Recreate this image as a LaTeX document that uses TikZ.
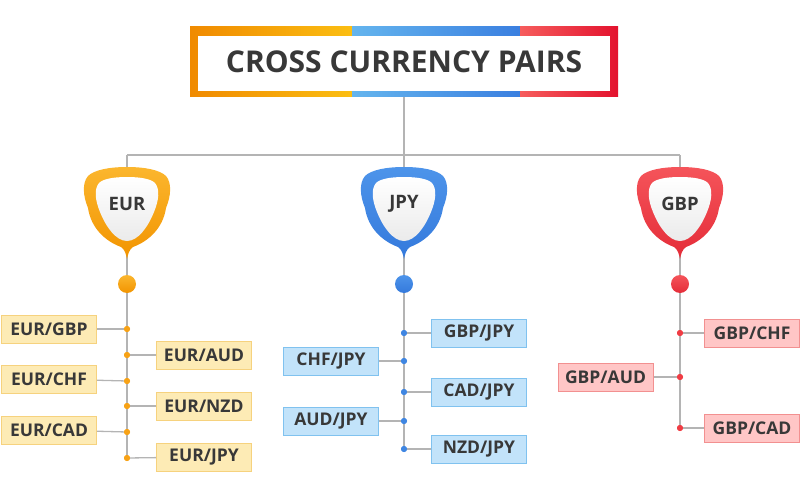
\documentclass[tikz,border=0pt]{standalone}
\usepackage{fontspec}
\setmainfont{Open Sans}
\definecolor{txt}{HTML}{383838}
\definecolor{linegray}{HTML}{B4B4B4}
\definecolor{orA}{HTML}{F08A00}
\definecolor{orB}{HTML}{FBBE12}
\definecolor{blA}{HTML}{64B5EE}
\definecolor{blB}{HTML}{3A7FE0}
\definecolor{rdA}{HTML}{F65C5C}
\definecolor{rdB}{HTML}{E3122E}
\definecolor{eurc}{HTML}{F7A216}
\definecolor{eurcD}{HTML}{F29400}
\definecolor{eurcL}{HTML}{FBB62E}
\definecolor{jpyc}{HTML}{3F86E2}
\definecolor{jpycD}{HTML}{3479DC}
\definecolor{jpycL}{HTML}{4D94EA}
\definecolor{gbpc}{HTML}{F03C44}
\definecolor{gbpcD}{HTML}{E42C38}
\definecolor{gbpcL}{HTML}{F5545A}
\definecolor{eurfill}{HTML}{FDEBB5}
\definecolor{eurbord}{HTML}{F6D27E}
\definecolor{jpyfill}{HTML}{C2E3FA}
\definecolor{jpybord}{HTML}{80C2EF}
\definecolor{gbpfill}{HTML}{FFC6C6}
\definecolor{gbpbord}{HTML}{F29090}
\newcommand\mybadge[5]{%
  \begin{scope}[shift={(#1,0)}]
    \path[top color=#2, bottom color=#3]
      (0,167) .. controls (18,167) and (33,170) .. (39,176)
      .. controls (45,183) and (44,196) .. (39,208)
      .. controls (36,228) and (22,241) .. (6,247)
      .. controls (2,250) and (1,254) .. (0,259)
      .. controls (-1,254) and (-2,250) .. (-6,247)
      .. controls (-22,241) and (-36,228) .. (-39,208)
      .. controls (-44,196) and (-45,183) .. (-39,176)
      .. controls (-33,170) and (-18,167) .. (0,167) -- cycle;
    \path[top color=white, bottom color=black!8]
      (0,177) .. controls (14,177) and (24,179) .. (28,183)
      .. controls (33,189) and (32,200) .. (27,212)
      .. controls (21,227) and (11,241) .. (0,241)
      .. controls (-11,241) and (-21,227) .. (-27,212)
      .. controls (-32,200) and (-33,189) .. (-28,183)
      .. controls (-24,179) and (-14,177) .. (0,177) -- cycle;
    \node[badgetext] (#5) at (0,204) {#4};
  \end{scope}}
\begin{document}
\begin{tikzpicture}[x=1pt,y=-1pt,
  trunk/.style={draw=linegray, line width=2.6pt},
  twig/.style={draw=linegray, line width=1.3pt},
  badgetext/.style={font=\fontsize{18.5}{18.5}\selectfont\bfseries, text=txt},
  pairbox/.style={line width=1pt, minimum width=95pt, minimum height=28pt, inner sep=0pt,
    font=\fontsize{17.5}{17.5}\selectfont\bfseries, text=txt},
  eurbox/.style={pairbox, fill=eurfill, draw=eurbord},
  jpybox/.style={pairbox, fill=jpyfill, draw=jpybord},
  gbpbox/.style={pairbox, fill=gbpfill, draw=gbpbord},
  dot/.style={circle, fill=#1, minimum size=6pt, inner sep=0pt},
  hubdot/.style={circle, minimum size=18pt, inner sep=0pt}]
\useasboundingbox (0,0) rectangle (800,500);
% title frame
\fill[left color=orA, right color=orB] (190,27) rectangle (352,97);
\fill[left color=blA, right color=blB] (352,27) rectangle (520,97);
\fill[left color=rdA, right color=rdB] (520,27) rectangle (618,97);
\fill[white] (198,36) rectangle (610,91);
\node[minimum width=428pt, minimum height=70pt, inner sep=0pt,
  font=\fontsize{30}{30}\selectfont\bfseries, text=txt] (title) at (404,62) {CROSS CURRENCY PAIRS};
% trunk lines
\coordinate (hub) at (404,155);
\coordinate (eurTop) at (127,155);
\coordinate (gbpTop) at (680,155);
\coordinate (eurEnd) at (127,458);
\coordinate (jpyEnd) at (404,449);
\coordinate (gbpEnd) at (680,428);
\draw[trunk] (title.south) -- (hub);
\draw[trunk] (eurTop) -- (gbpTop);
\draw[trunk] (eurTop) -- (eurEnd);
\draw[trunk] (hub) -- (jpyEnd);
\draw[trunk] (gbpTop) -- (gbpEnd);
% badges
\mybadge{127}{eurcL}{eurcD}{EUR}{eur}
\mybadge{404}{jpycL}{jpycD}{JPY}{jpy}
\mybadge{680}{gbpcL}{gbpcD}{GBP}{gbp}
\node[hubdot, top color=eurcL, bottom color=eurcD] (eurhub) at (127,284) {};
\node[hubdot, top color=jpycL, bottom color=jpycD] (jpyhub) at (404,284) {};
\node[hubdot, top color=gbpcL, bottom color=gbpcD] (gbphub) at (680,284) {};
% EUR branches
\node[dot=eurc] (e1) at (127,329) {};
\node[dot=eurc] (e2) at (127,355) {};
\node[dot=eurc] (e3) at (127,381) {};
\node[dot=eurc] (e4) at (127,406) {};
\node[dot=eurc] (e5) at (127,432) {};
\node[dot=eurc] (e6) at (127,458) {};
\node[eurbox] (be1) at (49,329) {EUR/GBP};
\node[eurbox] (be2) at (204,355) {EUR/AUD};
\node[eurbox] (be3) at (49,379) {EUR/CHF};
\node[eurbox] (be4) at (204,406) {EUR/NZD};
\node[eurbox] (be5) at (49,430) {EUR/CAD};
\node[eurbox] (be6) at (204,457) {EUR/JPY};
\foreach \i in {1,...,6} {\draw[twig] (be\i) -- (e\i);}
\foreach \i in {1,...,6} {\node[dot=eurc] at (e\i) {};}
% JPY branches
\node[dot=jpyc] (j1) at (404,333) {};
\node[dot=jpyc] (j2) at (404,361) {};
\node[dot=jpyc] (j3) at (404,392) {};
\node[dot=jpyc] (j4) at (404,421) {};
\node[dot=jpyc] (j5) at (404,449) {};
\node[jpybox] (bj1) at (479,333) {GBP/JPY};
\node[jpybox] (bj2) at (331,361) {CHF/JPY};
\node[jpybox] (bj3) at (479,392) {CAD/JPY};
\node[jpybox] (bj4) at (331,421) {AUD/JPY};
\node[jpybox] (bj5) at (479,449) {NZD/JPY};
\foreach \i in {1,...,5} {\draw[twig] (bj\i) -- (j\i);}
\foreach \i in {1,...,5} {\node[dot=jpyc] at (j\i) {};}
% GBP branches
\node[dot=gbpc] (g1) at (680,333) {};
\node[dot=gbpc] (g2) at (680,377) {};
\node[dot=gbpc] (g3) at (680,428) {};
\node[gbpbox] (bg1) at (752,333) {GBP/CHF};
\node[gbpbox] (bg2) at (605.5,377) {GBP/AUD};
\node[gbpbox] (bg3) at (752,428) {GBP/CAD};
\foreach \i in {1,...,3} {\draw[twig] (bg\i) -- (g\i);}
\foreach \i in {1,...,3} {\node[dot=gbpc] at (g\i) {};}
\end{tikzpicture}
\end{document}
